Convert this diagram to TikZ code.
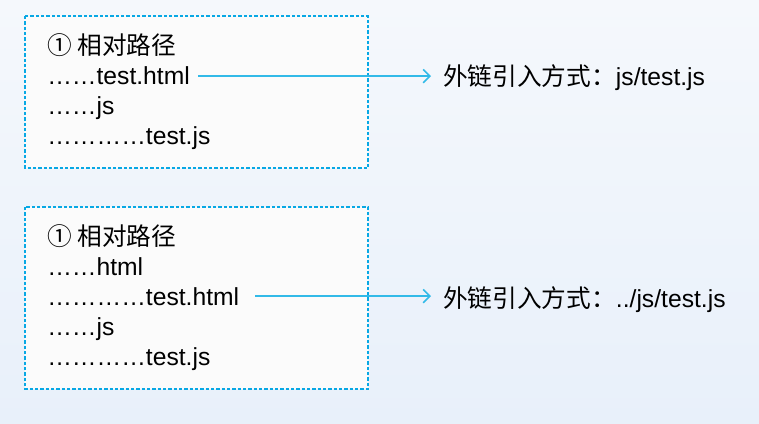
\documentclass[tikz,border=0pt]{standalone}
\usepackage{fontspec}
\setmainfont{Liberation Sans}
\newfontfamily\cjk{Noto Sans CJK SC}
\usetikzlibrary{arrows.meta}

\definecolor{boxline}{RGB}{8,168,228}
\definecolor{arrowline}{RGB}{50,186,232}
\definecolor{boxfill}{RGB}{251,251,251}
\definecolor{bgtop}{RGB}{245,248,252}
\definecolor{bgbot}{RGB}{232,240,250}

\tikzset{
  pathbox/.style={draw=boxline, fill=boxfill, line width=0.85pt, dash pattern=on 2.5pt off 1.5pt},
  row/.style={anchor=base west, inner sep=0pt, font=\fontsize{18.5}{18.5}\selectfont},
  link/.style={draw=arrowline, line width=1.2pt, -{Straight Barb[length=5pt,width=10pt]}}
}

\begin{document}
\begin{tikzpicture}[x=0.75pt,y=-0.75pt]

\def\lx{47}
\def\rx{443}

\shade[top color=bgtop, bottom color=bgbot] (0,0) rectangle (759,424);
\useasboundingbox (0,0) rectangle (759,424);

% same folder
\draw[pathbox] (25,16) rectangle (368,168);
\node[row] (a1) at (\lx,55) {\cjk ① 相对路径};
\node[row] (a2) at (\lx,85) {……test.html};
\node[row] (a3) at (\lx,115) {……js};
\node[row] (a4) at (\lx,145) {…………test.js};
\node[row] (r1) at (\rx,86) {{\cjk 外链引入方式：}js/test.js};

% html one level down
\draw[pathbox] (25,207) rectangle (368,389);
\node[row] (b1) at (\lx,245) {\cjk ① 相对路径};
\node[row] (b2) at (\lx,275) {……html};
\node[row] (b3) at (\lx,305) {…………test.html};
\node[row] (b4) at (\lx,335) {……js};
\node[row] (b5) at (\lx,365) {…………test.js};
\node[row] (r2) at (\rx,307) {{\cjk 外链引入方式：}../js/test.js};

\draw[link, shorten <=6pt, shorten >=9pt] (a2.east) -- (a2.east -| r1.west);
\draw[link, shorten <=12pt, shorten >=9pt] (b3.east) -- (b3.east -| r2.west);

\end{tikzpicture}
\end{document}
